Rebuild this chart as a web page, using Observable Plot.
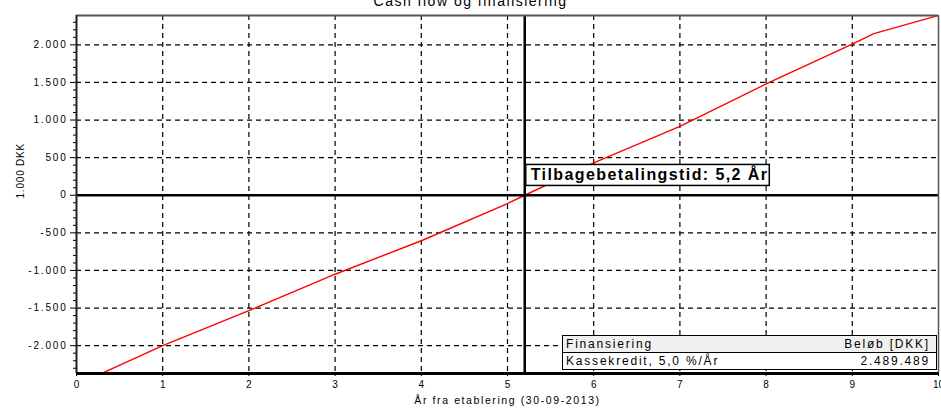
<!DOCTYPE html>
<html><head><meta charset="utf-8">
<script src="https://cdn.jsdelivr.net/npm/d3@7"></script>
<script src="https://cdn.jsdelivr.net/npm/@observablehq/plot@0.6"></script>
<style>
html,body{margin:0;padding:0;background:#fff;overflow:hidden}
#wrap{position:relative;width:941px;height:408px;font-family:"Liberation Sans",Arial,sans-serif}
#title{position:absolute;top:-7px;left:0;width:941px;text-align:center;font-size:14px;letter-spacing:1.5px;color:#000}
#legend{position:absolute;left:562px;top:335px;width:375px;border-collapse:collapse;font-size:12px;letter-spacing:1.8px;background:#fff}
#legend td{border:1px solid #000;padding:0 3px;height:16px;line-height:16px}
#legend tr.h td{background:#f0f0f0}
#legend td.r{text-align:right;border-left:none;padding-right:6px}
#legend td.l{border-right:none}
svg text{fill:#000}
svg .ytl text{letter-spacing:1.8px}
svg .xlab text{letter-spacing:1.6px}
svg .ylab text{letter-spacing:0.8px}
svg .payback text{letter-spacing:1.4px}
</style></head>
<body><div id="wrap"><div id="title"></div></div>
<script>
// data
const years = [0.28, 1, 2, 3, 4, 5, 5.2, 6, 7, 8, 9, 9.25, 10];
const cumulative = [-2375, -2000, -1535, -1050, -605, -110, 0, 430, 915, 1480, 2010, 2150, 2390];
const xTicks = [0, 1, 2, 3, 4, 5, 6, 7, 8, 9, 10];
const yTicks = [-2000, -1500, -1000, -500, 0, 500, 1000, 1500, 2000];
const paybackYear = 5.2;
const paybackLabel = "Tilbagebetalingstid: 5,2 År";
const yLabelPos = 265;
const legendHeader = ["Finansiering", "Beløb [DKK]"];
const legendRow = ["Kassekredit, 5,0 %/År", "2.489.489"];
const title = "Cash flow og finansiering";
const xLabel = "År fra etablering (30-09-2013)";
const yLabel = "1.000 DKK";
const yDomain = [-2370, 2390];
const xDomain = [0, 10];

const data = years.map((x, i) => ({x, y: cumulative[i]}));
const loc = d3.formatLocale({decimal: ",", thousands: ".", grouping: [3], currency: ["", ""], minus: "-"});
const fmt = loc.format(",");
const yMinor = d3.range(-2300, 2400, 100).filter(v => v % 500 !== 0);
const xMinor = d3.range(0, 10.01, 0.25).filter(v => v % 1 !== 0);

const plot = Plot.plot({
  width: 941, height: 408,
  marginLeft: 76, marginRight: 3, marginTop: 15, marginBottom: 35,
  style: {fontFamily: '"Liberation Sans", Arial, sans-serif', fontSize: "10px", background: "transparent", overflow: "visible"},
  x: {domain: xDomain, label: null},
  y: {domain: yDomain, label: null},
  marks: [
    Plot.ruleX(xTicks.slice(1, -1), {stroke: "#000", strokeDasharray: "5,4", strokeWidth: 1.2}),
    Plot.ruleY(yTicks.filter(v => v !== 0), {stroke: "#000", strokeDasharray: "5,4", strokeWidth: 1.2}),
    Plot.line(data, {x: "x", y: "y", stroke: "#ff0000", strokeWidth: 1.4, clip: true}),
    Plot.ruleY([0], {stroke: "#000", strokeWidth: 2.5}),
    Plot.ruleX([paybackYear], {stroke: "#000", strokeWidth: 2.5}),
    Plot.ruleY([yDomain[1]], {stroke: "#555", strokeWidth: 2}),
    Plot.ruleX([xDomain[1]], {stroke: "#555", strokeWidth: 1.5}),
    Plot.ruleX([xDomain[0]], {stroke: "#222", strokeWidth: 2}),
    Plot.ruleY([yDomain[0]], {stroke: "#000", strokeWidth: 3}),
    Plot.axisY(yTicks, {label: null, tickSize: 6, tickPadding: 3, tickFormat: fmt, fontSize: 10, className: "ytl"}),
    Plot.axisY(yMinor, {label: null, tickSize: 3, tickFormat: () => ""}),
    Plot.axisX(xTicks, {label: null, tickSize: 3, tickPadding: 4, fontSize: 10}),
    Plot.axisX(xMinor, {label: null, tickSize: 2, tickFormat: () => ""}),
    Plot.text([yLabel], {frameAnchor: "left", dx: -56, dy: 4, rotate: -90, fontSize: 10, className: "ylab"}),
    Plot.text([xLabel], {frameAnchor: "bottom", dy: 30, fontSize: 10.5, className: "xlab"}),
    Plot.text([paybackLabel], {x: () => paybackYear, y: () => yLabelPos, textAnchor: "start", dx: 6, fontSize: 16, fontWeight: "bold", className: "payback"})
  ]
});
document.getElementById("wrap").appendChild(plot);
plot.style.position = "absolute"; plot.style.left = "0"; plot.style.top = "0";
// box behind payback label
const t = plot.querySelector(".payback text");
if (t) {
  const b = t.getBBox();
  const r = document.createElementNS("http://www.w3.org/2000/svg", "rect");
  r.setAttribute("x", b.x - 5); r.setAttribute("y", b.y - 1);
  r.setAttribute("width", b.width + 6); r.setAttribute("height", b.height + 3);
  if (t.getAttribute("transform")) r.setAttribute("transform", t.getAttribute("transform"));
  r.setAttribute("fill", "#fff"); r.setAttribute("stroke", "#000"); r.setAttribute("stroke-width", "1.5");
  t.parentNode.insertBefore(r, t);
}
// legend table
const tbl = document.createElement("table");
tbl.id = "legend";
tbl.innerHTML = `<tr class="h"><td class="l">${legendHeader[0]}</td><td class="r">${legendHeader[1]}</td></tr><tr><td class="l">${legendRow[0]}</td><td class="r">${legendRow[1]}</td></tr>`;
document.getElementById("wrap").appendChild(tbl);
document.getElementById("title").textContent = title;
</script></body></html>
